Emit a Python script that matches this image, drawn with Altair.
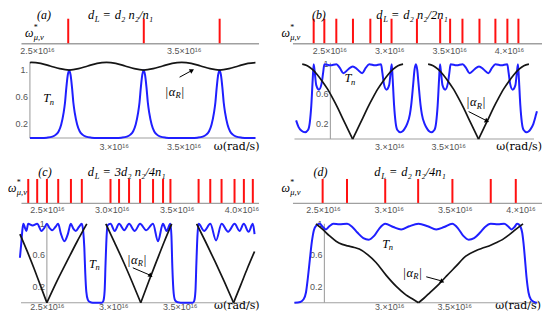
import altair as alt
import pandas as pd

SERIF = "Liberation Serif"
SANS = "Liberation Sans"
BLUE = "#1f1fff"
BLACK = "#151515"
RED = "#ff1010"
GRAY = "#a0a0a0"
TXT_GRAY = "#555555"

# ---------------- panel (a) ----------------
A_TICKS = [2.713, 3.228, 3.745]
A_TOP_XT = [2.5, 3.5]
A_TOP_XL = ["2.5×10¹⁶", "3.5×10¹⁶"]
A_BOT_XT = [3.0, 3.5]
A_BOT_XL = ["3.×10¹⁶", "3.5×10¹⁶"]
A_YT = [1.0, 0.6, 0.2]
A_YL = ["1.", "0.6", "0.2"]
A_BLUE_X = [2.400, 2.481, 2.521, 2.561, 2.586, 2.606, 2.624, 2.641, 2.651, 2.661, 2.671, 2.681, 2.691, 2.701, 2.711, 2.721, 2.738, 2.756, 2.776, 2.801, 2.841, 2.881,
            3.014, 3.054, 3.094, 3.119, 3.139, 3.157, 3.174, 3.184, 3.194, 3.204, 3.214, 3.224, 3.234, 3.244, 3.254, 3.271, 3.289, 3.309, 3.334, 3.374, 3.414,
            3.557, 3.597, 3.637, 3.662, 3.682, 3.700, 3.717, 3.727, 3.737, 3.747, 3.757, 3.767, 3.777, 3.787, 3.797, 3.814, 3.832, 3.852, 3.877, 3.917, 3.957, 4.014]
A_BLUE_Y = [0, 0, 0.005, 0.02, 0.05, 0.1, 0.2, 0.37, 0.52, 0.75, 0.93, 1.0, 0.93, 0.75, 0.52, 0.37, 0.2, 0.1, 0.05, 0.02, 0.005, 0,
            0, 0.005, 0.02, 0.05, 0.1, 0.2, 0.37, 0.52, 0.75, 0.93, 1.0, 0.93, 0.75, 0.52, 0.37, 0.2, 0.1, 0.05, 0.02, 0.005, 0,
            0, 0.005, 0.02, 0.05, 0.1, 0.2, 0.37, 0.52, 0.75, 0.93, 1.0, 0.93, 0.75, 0.52, 0.37, 0.2, 0.1, 0.05, 0.02, 0.005, 0, 0]
A_BLK_X = [2.400, 2.410, 2.477, 2.545, 2.613, 2.681, 2.748, 2.814, 2.881, 2.948, 3.014, 3.081, 3.147, 3.214, 3.282, 3.350, 3.418,
           3.486, 3.554, 3.622, 3.689, 3.757, 3.825, 3.892, 3.960, 4.014]
A_BLK_Y = [1.112, 1.114, 1.100, 1.062, 1.022, 1.002, 1.022, 1.062, 1.100, 1.114, 1.100, 1.062, 1.022, 1.002, 1.022, 1.062, 1.100,
           1.114, 1.100, 1.062, 1.022, 1.002, 1.022, 1.062, 1.100, 1.112]
A_BLK_SEG = [0] * 26

# ---------------- panel (b) ----------------
B_TICKS = [2.369, 2.458, 2.558, 2.697, 2.842, 2.931, 3.019, 3.231, 3.425, 3.508, 3.611, 3.753, 3.886, 3.986, 4.078]
B_TOP_XT = [2.5, 3.0, 3.5, 4.0]
B_TOP_XL = ["2.5×10¹⁶", "3.×10¹⁶", "3.5×10¹⁶", "4.×10¹⁶"]
B_BOT_XT = [3.0, 3.5]
B_BOT_XL = ["3.×10¹⁶", "3.5×10¹⁶"]
YT = [1.0, 0.6, 0.2]
YL = ["1", "0.6", "0.2"]
B_BLUE_X = [2.209, 2.230, 2.255, 2.285, 2.310, 2.325, 2.338, 2.350, 2.358, 2.368,
            2.380, 2.403, 2.425, 2.438, 2.449, 2.500, 2.551, 2.580, 2.610, 2.650,
            2.690, 2.730, 2.770, 2.800, 2.830, 2.880, 2.930, 2.942, 2.954, 2.976,
            2.999, 3.011, 3.021, 3.029, 3.041, 3.054, 3.069, 3.094, 3.110, 3.127,
            3.151, 3.175, 3.186, 3.203, 3.214, 3.226, 3.238, 3.249, 3.266, 3.277,
            3.301, 3.325, 3.342, 3.358, 3.383, 3.398, 3.411, 3.423, 3.431, 3.440,
            3.452, 3.475, 3.497, 3.510, 3.521, 3.572, 3.623, 3.652, 3.682, 3.722,
            3.762, 3.802, 3.842, 3.872, 3.902, 3.952, 4.002, 4.014, 4.026, 4.048,
            4.071, 4.083, 4.093, 4.101, 4.113, 4.126, 4.141, 4.166, 4.182, 4.199,
            4.223, 4.247, 4.254]
B_BLUE_Y = [0.25, 0.16, 0.11, 0.09, 0.12, 0.22, 0.45, 0.80, 1.00, 0.88,
            0.72, 0.66, 0.74, 0.88, 1.00, 0.985, 1.00, 0.95, 0.88, 0.93,
            0.97, 0.93, 0.88, 0.95, 1.00, 0.985, 1.00, 0.88, 0.74, 0.66,
            0.72, 0.88, 1.00, 0.80, 0.45, 0.22, 0.12, 0.09, 0.10, 0.13,
            0.20, 0.33, 0.45, 0.73, 0.92, 1.00, 0.92, 0.73, 0.45, 0.33,
            0.20, 0.13, 0.10, 0.09, 0.12, 0.22, 0.45, 0.80, 1.00, 0.88,
            0.72, 0.66, 0.74, 0.88, 1.00, 0.985, 1.00, 0.95, 0.88, 0.93,
            0.97, 0.93, 0.88, 0.95, 1.00, 0.985, 1.00, 0.88, 0.74, 0.66,
            0.72, 0.88, 1.00, 0.80, 0.45, 0.22, 0.12, 0.09, 0.10, 0.13,
            0.20, 0.33, 0.37]
B_BLK_X = [2.261, 2.304, 2.347, 2.389, 2.432, 2.475, 2.518, 2.561, 2.603, 2.646, 2.689,
           2.689, 2.732, 2.775, 2.817, 2.860, 2.903, 2.946, 2.989, 3.031, 3.074, 3.117,
           3.330, 3.373, 3.416, 3.458, 3.501, 3.544, 3.587, 3.630, 3.672, 3.715, 3.758,
           3.758, 3.801, 3.844, 3.886, 3.929, 3.972, 4.015, 4.058, 4.100, 4.143, 4.186]
B_BLK_Y = [1.0, 0.98, 0.93, 0.86, 0.77, 0.67, 0.55, 0.42, 0.28, 0.14, 0.0,
           0.0, 0.14, 0.28, 0.42, 0.55, 0.67, 0.77, 0.86, 0.93, 0.98, 1.0,
           1.0, 0.98, 0.93, 0.86, 0.77, 0.67, 0.55, 0.42, 0.28, 0.14, 0.0,
           0.0, 0.14, 0.28, 0.42, 0.55, 0.67, 0.77, 0.86, 0.93, 0.98, 1.0]
B_BLK_SEG = [0] * 11 + [1] * 11 + [2] * 11 + [3] * 11

# ---------------- panel (c) ----------------
C_TICKS = [2.356, 2.425, 2.500, 2.587, 2.685, 2.769, 2.990, 3.056, 3.133, 3.218, 3.318, 3.395, 3.452,
           3.669, 3.759, 3.846, 3.946, 4.018, 4.087]
C_TOP_XT = [2.5, 3.0, 3.5, 4.0]
C_TOP_XL = ["2.5×10¹⁶", "3.0×10¹⁶", "3.5×10¹⁶", "4.0×10¹⁶"]
C_BOT_XT = [2.5, 3.0, 3.5]
C_BOT_XL = ["2.5×10¹⁶", "3.×10¹⁶", "3.5×10¹⁶"]
C_BLUE_X = [2.297, 2.307, 2.316, 2.323, 2.335, 2.346, 2.359, 2.393, 2.427, 2.460,
            2.481, 2.500, 2.519, 2.541, 2.564, 2.585, 2.605, 2.632, 2.658, 2.680,
            2.699, 2.718, 2.741, 2.763, 2.774, 2.782, 2.789, 2.797, 2.808, 2.823,
            2.846, 2.914, 2.925, 2.935, 2.942, 2.950, 2.957, 2.979, 3.011, 3.044,
            3.083, 3.119, 3.162, 3.202, 3.248, 3.299, 3.337, 3.374, 3.402, 3.430,
            3.438, 3.445, 3.455, 3.466, 3.485, 3.508, 3.598, 3.609, 3.619, 3.626,
            3.634, 3.643, 3.684, 3.731, 3.774, 3.816, 3.865, 3.914, 3.951, 3.983,
            4.019, 4.051, 4.064]
C_BLUE_Y = [0.57, 0.75, 0.93, 1.0, 0.95, 0.91, 1.0, 0.98, 1.0, 0.91,
            0.95, 1.0, 0.95, 0.92, 0.96, 1.0, 0.88, 0.78, 0.87, 1.0,
            0.94, 0.91, 0.96, 1.0, 0.9, 0.7, 0.38, 0.14, 0.04, 0.01,
            0.0, 0.0, 0.02, 0.15, 0.5, 0.85, 0.98, 1.0, 0.91, 1.0,
            0.92, 1.0, 0.91, 1.0, 0.92, 1.0, 0.78, 1.0, 0.91, 1.0,
            0.85, 0.45, 0.12, 0.03, 0.005, 0.0, 0.0, 0.02, 0.15, 0.5,
            0.85, 1.0, 0.91, 1.0, 0.79, 1.0, 0.9, 1.0, 0.91, 1.0,
            0.9, 1.0, 0.87]
C_BLK_X = [2.297, 2.350, 2.402, 2.451, 2.500,
           2.500, 2.575, 2.650, 2.726, 2.801,
           2.944, 3.011, 3.079, 3.143, 3.207,
           3.207, 3.267, 3.327, 3.383, 3.440,
           3.628, 3.696, 3.767, 3.838, 3.906,
           3.906, 3.959, 4.011, 4.064]
C_BLK_Y = [0.87, 0.66, 0.44, 0.22, 0.0,
           0.0, 0.27, 0.52, 0.77, 1.0,
           1.0, 0.76, 0.51, 0.26, 0.0,
           0.0, 0.27, 0.53, 0.77, 1.0,
           1.0, 0.77, 0.52, 0.26, 0.0,
           0.0, 0.22, 0.44, 0.65]
C_BLK_SEG = [0] * 5 + [1] * 5 + [2] * 5 + [3] * 5 + [4] * 5 + [5] * 4

# ---------------- panel (d) ----------------
D_TICKS = [2.498, 2.683, 2.973, 3.223, 3.483, 3.774, 3.964]
D_TOP_XT = [2.5, 3.0, 3.5, 4.0]
D_TOP_XL = ["2.5×10¹⁶", "3.×10¹⁶", "3.5×10¹⁶", "4.×10¹⁶"]
D_BOT_XT = [3.0, 3.5]
D_BOT_XL = ["3.×10¹⁶", "3.5×10¹⁶"]
D_BLUE_X = [2.269, 2.315, 2.338, 2.358, 2.373, 2.388, 2.404, 2.419, 2.438, 2.465,
            2.488, 2.512, 2.538, 2.569, 2.615, 2.675, 2.715, 2.754, 2.800, 2.842,
            2.885, 2.923, 2.969, 3.031, 3.092, 3.154, 3.225, 3.296, 3.362, 3.423,
            3.485, 3.531, 3.569, 3.612, 3.654, 3.700, 3.738, 3.782, 3.838, 3.885,
            3.915, 3.942, 3.965, 3.985, 4.000, 4.023, 4.035, 4.046, 4.058, 4.073,
            4.092, 4.115, 4.138]
D_BLUE_Y = [0.0, 0.01, 0.04, 0.13, 0.32, 0.55, 0.78, 0.92, 0.98, 1.0,
            0.96, 0.93, 0.97, 1.0, 0.995, 1.0, 0.96, 0.89, 0.82, 0.8,
            0.85, 0.94, 1.0, 0.96, 0.93, 0.97, 1.0, 0.97, 0.93, 0.96,
            1.0, 0.94, 0.85, 0.8, 0.82, 0.89, 0.96, 1.0, 0.995, 1.0,
            0.97, 0.93, 0.96, 1.0, 0.99, 0.9, 0.75, 0.55, 0.32, 0.13,
            0.04, 0.01, 0.0]
D_BLK_X = [2.435, 2.487, 2.538, 2.590, 2.638, 2.679, 2.731, 2.769, 2.833, 2.898, 2.975, 3.052, 3.128, 3.177, 3.225,
           3.225, 3.269, 3.308, 3.385, 3.442, 3.513, 3.590, 3.667, 3.715, 3.769, 3.823, 3.872, 3.923, 3.975, 4.031]
D_BLK_Y = [1.0, 0.93, 0.85, 0.78, 0.74, 0.72, 0.70, 0.68, 0.61, 0.51, 0.35, 0.21, 0.10, 0.05, 0.0,
           0.0, 0.06, 0.12, 0.24, 0.34, 0.46, 0.59, 0.66, 0.69, 0.72, 0.76, 0.80, 0.86, 0.93, 1.0]
D_BLK_SEG = [0] * 15 + [1] * 15

TITLES = ["(a)", "(b)", "(c)", "(d)"]
EQ_RIGHT = ["d₂ n₂/n₁", "d₂ n₂/2n₁", "3d₂ n₂/4n₁", "d₂ n₂/4n₁"]
UNIT = "ω(rad/s)"


def label_expr(vals, labels):
    parts = [f"abs(datum.value - {v}) < 0.001 ? '{t}'" for v, t in zip(vals, labels)]
    return " : ".join(parts) + " : ''"


def make_x(dom, vals, labels, pad, line):
    return alt.X("x:Q", scale=alt.Scale(domain=dom, nice=False, zero=False),
                 axis=alt.Axis(values=vals, labelExpr=label_expr(vals, labels), title=None, grid=False,
                               ticks=False, domain=line, domainColor=GRAY, domainWidth=1.4,
                               labelFont=SANS, labelFontSize=9, labelColor=TXT_GRAY, labelPadding=pad,
                               labelFlush=False, labelOverlap=False, labelAngle=0))


def make_y(dom):
    return alt.Y("y:Q", scale=alt.Scale(domain=dom, nice=False, zero=False), axis=None)


def pdf(x, y):
    return pd.DataFrame({"x": [x], "y": [y]})


def piece(x, y, xe, ye, text, dx=0, dy=0, size=12, italic=True, font=SERIF, align="left", color="black"):
    return alt.Chart(pdf(x, y)).mark_text(
        text=text, dx=dx, dy=dy, fontSize=size, font=font,
        fontStyle="italic" if italic else "normal", align=align, baseline="middle", color=color
    ).encode(x=xe, y=ye)


def strip(ticks, xdom, ydom, xvals, xlabels, width, height, letter, letter_pos, eq_pos, eq_rest, omega_pos):
    xe = make_x(xdom, xvals, xlabels, 3, True)
    ye = make_y(ydom)
    tdf = pd.DataFrame({"x": ticks, "y": [0.0] * len(ticks), "y2": [1.0] * len(ticks)})
    layers = [alt.Chart(tdf).mark_rule(color=RED, strokeWidth=2).encode(x=xe, y=ye, y2="y2:Q")]
    layers.append(piece(letter_pos[0], letter_pos[1], xe, ye, letter, size=12, align="center"))
    ex, ey = eq_pos
    layers += [piece(ex, ey, xe, ye, "d", size=12.5),
               piece(ex, ey, xe, ye, "L", dx=7, dy=3.5, size=8.5),
               piece(ex, ey, xe, ye, "=", dx=15.5, size=12.5, italic=False),
               piece(ex, ey, xe, ye, eq_rest, dx=27, size=12.5)]
    ox, oy = omega_pos
    layers += [piece(ox, oy, xe, ye, "ω", size=12),
               piece(ox, oy, xe, ye, "*", dx=8.8, dy=-5, size=8, italic=False),
               piece(ox, oy, xe, ye, "μ,ν", dx=8.8, dy=4.5, size=8.5)]
    return alt.layer(*layers).properties(width=width, height=height)


def bottom(xdom, ydom, xvals, xlabels, pad, width, height, bx, by, kx, ky, kseg,
           xspan, yaxis_x, yaxis_top, ylab_vals, ylab_text, t_pos, a_pos, arrow, head, head_angle, unit_pos):
    xe = make_x(xdom, xvals, xlabels, pad, False)
    ye = make_y(ydom)
    axdf = pd.DataFrame({"x": [xspan[0], yaxis_x], "x2": [xspan[1], yaxis_x],
                         "y": [0.0, 0.0], "y2": [0.0, yaxis_top]})
    layers = [alt.Chart(axdf).mark_rule(color=GRAY, strokeWidth=1.1).encode(x=xe, x2="x2:Q", y=ye, y2="y2:Q")]
    yl = pd.DataFrame({"x": [yaxis_x] * len(ylab_vals), "y": ylab_vals, "t": ylab_text})
    layers.append(alt.Chart(yl).mark_text(align="right", baseline="middle", dx=-2, font=SANS, fontSize=9,
                                          color=TXT_GRAY).encode(x=xe, y=ye, text="t:N"))
    layers.append(alt.Chart(pd.DataFrame({"x": bx, "y": by})).mark_line(
        color=BLUE, strokeWidth=2, interpolate="monotone").encode(x=xe, y=ye))
    layers.append(alt.Chart(pd.DataFrame({"x": kx, "y": ky, "s": kseg})).mark_line(
        color=BLACK, strokeWidth=1.7, interpolate="monotone").encode(x=xe, y=ye, detail="s:N"))
    tx, ty = t_pos
    layers += [piece(tx, ty, xe, ye, "T", size=12.5), piece(tx, ty, xe, ye, "n", dx=6.5, dy=3.5, size=8.5)]
    ax_, ay_ = a_pos
    layers += [piece(ax_, ay_, xe, ye, "|", size=12.5, italic=False),
               piece(ax_, ay_, xe, ye, "α", dx=3.2, size=12.5),
               piece(ax_, ay_, xe, ye, "R", dx=10, dy=3.5, size=8.5),
               piece(ax_, ay_, xe, ye, "|", dx=16, size=12.5, italic=False)]
    ardf = pd.DataFrame({"x": [arrow[0]], "y": [arrow[1]], "x2": [arrow[2]], "y2": [arrow[3]]})
    layers.append(alt.Chart(ardf).mark_rule(color="black", strokeWidth=1).encode(x=xe, y=ye, x2="x2:Q", y2="y2:Q"))
    layers.append(alt.Chart(pdf(head[0], head[1])).mark_point(
        shape="triangle-up", filled=True, color="black", opacity=1, size=26, angle=head_angle).encode(x=xe, y=ye))
    layers.append(piece(unit_pos[0], unit_pos[1], xe, ye, UNIT, size=11, italic=False,
                        font="DejaVu Serif", align="right"))
    return alt.layer(*layers).properties(width=width, height=height)


W1, W2 = 238, 250

a_top = strip(A_TICKS, [2.391, 4.010], [0, 1.1], A_TOP_XT, A_TOP_XL, W1, 27,
              TITLES[0], (2.548, 1.141), (2.847, 1.141), EQ_RIGHT[0], (2.418, 0.428))
b_top = strip(B_TICKS, [2.192, 4.275], [0, 1.1], B_TOP_XT, B_TOP_XL, W2, 27,
              TITLES[1], (2.4125, 1.141), (2.892, 1.141), EQ_RIGHT[1], (2.100, 0.428))
c_top = strip(C_TICKS, [2.300, 4.131], [0, 1.875], C_TOP_XT, C_TOP_XL, W1, 45,
              TITLES[2], (2.485, 1.27), (2.815, 1.27), EQ_RIGHT[2], (2.200, 0.625))
d_top = strip(D_TICKS, [2.269, 4.163], [0, 1.875], D_TOP_XT, D_TOP_XL, W2, 45,
              TITLES[3], (2.481, 1.27), (2.890, 1.27), EQ_RIGHT[3], (2.186, 0.625))

a_bot = bottom([2.336, 4.036], [-0.015, 1.118], A_BOT_XT, A_BOT_XL, 3, W1, 77,
               A_BLUE_X, A_BLUE_Y, A_BLK_X, A_BLK_Y, A_BLK_SEG,
               (2.4, 4.014), 2.4, 1.118, A_YT, A_YL,
               (2.495, 0.588), (3.371, 0.684), (3.471, 0.897, 3.552, 0.988), (3.560, 0.997), 62,
               (4.043, -0.128))
b_bot = bottom([2.178, 4.297], [0, 1.027], B_BOT_XT, B_BOT_XL, 3, W2, 77,
               B_BLUE_X, B_BLUE_Y, B_BLK_X, B_BLK_Y, B_BLK_SEG,
               (2.195, 4.229), 2.5, 1.02, YT, YL,
               (2.619, 0.813), (3.658, 0.493), (3.674, 0.367, 3.820, 0.250), (3.830, 0.240), 116,
               (4.297, -0.103))
c_bot = bottom([2.305, 4.094], [0, 1.025], C_BOT_XT, C_BOT_XL, 0, W1, 81,
               C_BLUE_X, C_BLUE_Y, C_BLK_X, C_BLK_Y, C_BLK_SEG,
               (2.305, 4.079), 2.5, 1.0, YT, YL,
               (2.818, 0.494), (3.109, 0.544), (3.147, 0.443, 3.271, 0.354), (3.282, 0.342), 125,
               (4.102, -0.047))
d_bot = bottom([2.254, 4.177], [0, 1.025], D_BOT_XT, D_BOT_XL, 0, W2, 81,
               D_BLUE_X, D_BLUE_Y, D_BLK_X, D_BLK_Y, D_BLK_SEG,
               (2.269, 4.154), 2.5, 1.0, YT, YL,
               (2.946, 0.747), (3.108, 0.380), (3.285, 0.329, 3.395, 0.280), (3.408, 0.270), 116,
               (4.169, -0.047))

chart = alt.concat(
    a_top, b_top, a_bot, b_bot, c_top, d_top, c_bot, d_bot,
    columns=2, spacing={"row": 19, "column": 34}, align="each", bounds="flush"
).resolve_scale(x="independent", y="independent").configure_view(stroke=None).properties(
    padding={"left": 0, "top": 0, "right": 0, "bottom": 0}
)

chart.save("out.html", embed_options={"renderer": "svg", "actions": False})
